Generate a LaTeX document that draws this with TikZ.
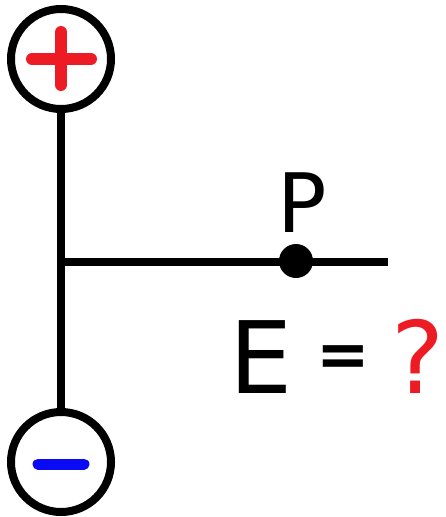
\documentclass[tikz,border=0pt]{standalone}
\usepackage{fontspec}
\setmainfont{DejaVu Sans}
\usetikzlibrary{positioning}
\definecolor{signred}{RGB}{237,28,36}
\definecolor{signblue}{RGB}{10,10,245}

\begin{document}
\begin{tikzpicture}[
  x=1pt, y=-1pt,
  charge/.style={draw, circle, line width=8pt, minimum size=100pt, inner sep=0pt},
  wire/.style={line width=8pt},
  sign/.style={line width=12pt, line cap=round},
  pointdot/.style={circle, fill=black, minimum size=34pt, inner sep=0pt},
  big/.style={inner sep=0pt, font=\fontsize{100}{100}\selectfont}
]
  \useasboundingbox (0,0) rectangle (445,517);

  % charges
  \node[charge] (pos) at (61,59) {};
  \node[charge] (neg) at (61,462) {};
  \draw[sign, signred] ([xshift=-29pt]pos.center) -- ([xshift=30pt]pos.center);
  \draw[sign, signred] ([yshift=27pt]pos.center) -- ([yshift=-26pt]pos.center);
  \draw[sign, signblue, line width=11pt] ([xshift=-23pt,yshift=-2pt]neg.center) -- ([xshift=23pt,yshift=-2pt]neg.center);

  % wires
  \coordinate (junc) at (61,262);
  \coordinate (tip) at (388,262);
  \draw[wire] (pos.south) -- (neg.north);
  \draw[wire] (junc) -- (tip);

  % point P
  \node[pointdot] (P) at (296,261) {};
  \node[big, anchor=base, font=\fontsize{82}{82}\selectfont] (plabel) at (302,232) {P};

  % E = ?
  \node[big, anchor=base] (E) at (261,393) {E};
  \node[big, anchor=center, font=\fontsize{64}{64}\selectfont\bfseries] (eq) at (343,361) {=};
  \node[big, anchor=base, text=signred] (q) at (418,393) {?};
\end{tikzpicture}
\end{document}
